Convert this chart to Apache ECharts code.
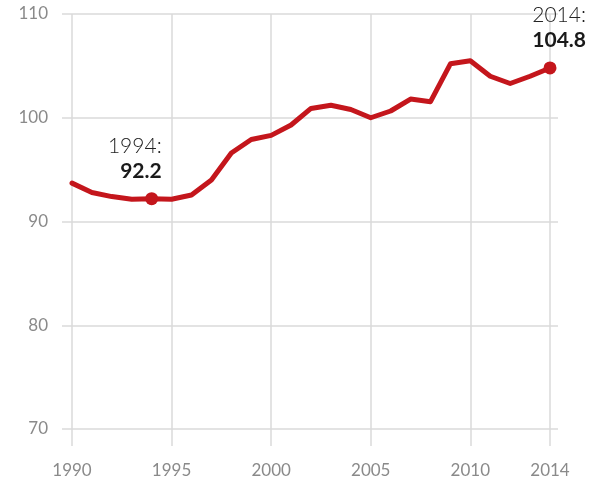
<!DOCTYPE html>
<html>
<head>
<meta charset="utf-8">
<script src="https://cdn.jsdelivr.net/npm/echarts@6/dist/echarts.min.js"></script>
<style>
html,body{margin:0;padding:0;background:#fff;}
#chart{width:599px;height:484px;}
</style>
</head>
<body>
<div id="chart"></div>
<script>
const years = [1990,1991,1992,1993,1994,1995,1996,1997,1998,1999,2000,2001,2002,2003,2004,2005,2006,2007,2008,2009,2010,2011,2012,2013,2014];
const values = [93.7,92.8,92.4,92.15,92.2,92.15,92.55,94.0,96.6,97.9,98.3,99.3,100.9,101.2,100.8,100.0,100.65,101.8,101.55,105.2,105.5,104.0,103.3,104.0,104.8];
const xTicks = [1990,1995,2000,2005,2010,2014];
const yTicks = [70,80,90,100,110];
const highlightYears = [1994,2014];

const chart = echarts.init(document.getElementById('chart'), null, {renderer:'canvas'});
const gridColor = '#dadada';
const labelFont = 'Lato, "Open Sans", sans-serif';

const lineData = years.map((y,i)=>[y, values[i]]);
const hlOffsets = {1994:[10,-8], 2014:[36,-9]};
const hlData = highlightYears.map(y => ({
  value: [y, values[years.indexOf(y)]],
  label: { offset: hlOffsets[y] }
}));

chart.setOption({
  animation:false,
  grid:[
    {left:72, right:49, top:14, bottom:55},
    {left:62, right:41, top:14, bottom:55}
  ],
  xAxis:[
    {gridIndex:0, type:'value', min:1990, max:2014,
     axisLine:{show:false},
     axisTick:{show:true, customValues:xTicks, length:17, lineStyle:{color:gridColor,width:1.5}},
     axisLabel:{customValues:xTicks, margin:33, color:'#8a8a8a', fontSize:17, fontFamily:labelFont, formatter:v=>String(v)},
     splitLine:{show:true, lineStyle:{color:gridColor,width:1.5}}
    },
    {gridIndex:1, type:'value', min:0, max:1, show:false}
  ],
  yAxis:[
    {gridIndex:0, type:'value', min:70, max:110, interval:10, show:false, splitLine:{show:false}},
    {gridIndex:1, type:'value', min:70, max:110, interval:10,
     axisLine:{show:false}, axisTick:{show:false},
     axisLabel:{margin:14, color:'#8a8a8a', fontSize:17, fontFamily:labelFont},
     splitLine:{show:true, lineStyle:{color:gridColor,width:1.5}}
    }
  ],
  series:[
    {type:'line', xAxisIndex:0, yAxisIndex:0, data:lineData, symbol:'none',
     lineStyle:{color:'#c4161c', width:5, join:'round', cap:'round'}, z:3},
    {type:'scatter', xAxisIndex:0, yAxisIndex:0, data:hlData, symbolSize:13,
     itemStyle:{color:'#c4161c', opacity:1}, z:4,
     label:{show:true, position:'top', align:'right', distance:0,
       formatter:p=>'{a|'+p.value[0]+':}\n{b|'+p.value[1].toFixed(1)+'}',
       rich:{
         a:{fontSize:21, fontWeight:300, color:'#222', fontFamily:labelFont, lineHeight:25, align:'right'},
         b:{fontSize:21, fontWeight:'bold', color:'#1a1a1a', fontFamily:labelFont, lineHeight:25, align:'right'}
       }}
    }
  ]
});
</script>
</body>
</html>
